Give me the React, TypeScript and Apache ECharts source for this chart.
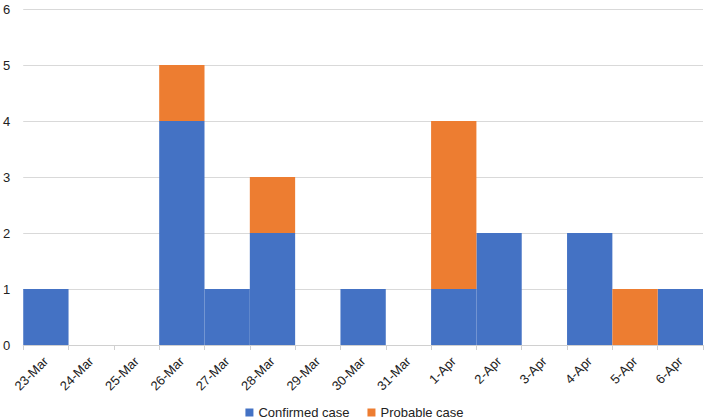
import React, { useEffect, useRef } from "react";
import * as echarts from "echarts";

const categories = ["23-Mar", "24-Mar", "25-Mar", "26-Mar", "27-Mar", "28-Mar", "29-Mar", "30-Mar", "31-Mar", "1-Apr", "2-Apr", "3-Apr", "4-Apr", "5-Apr", "6-Apr"];
const confirmed = [1, 0, 0, 4, 1, 2, 0, 1, 0, 1, 2, 0, 2, 0, 1];
const probable = [0, 0, 0, 1, 0, 1, 0, 0, 0, 3, 0, 0, 0, 1, 0];
const yTicks = [0, 1, 2, 3, 4, 5, 6];

export default function App() {
  const ref = useRef<HTMLDivElement>(null);
  useEffect(() => {
    if (!ref.current) return;
    const chart = echarts.init(ref.current, undefined, { renderer: "svg" });
    const font = "Liberation Sans, Arial, sans-serif";
    chart.setOption({
      animation: false,
      textStyle: { fontFamily: font },
      grid: { left: 23, right: 6, top: 9, bottom: 75, containLabel: false },
      legend: {
        top: 406,
        padding: 0,
        left: "center",
        itemWidth: 8,
        itemHeight: 8,
        itemGap: 18,
        icon: "rect",
        textStyle: { fontSize: 13, color: "#222", fontFamily: font },
        data: ["Confirmed case", "Probable case"],
      },
      xAxis: {
        type: "category",
        data: categories,
        axisLine: { show: true, lineStyle: { color: "#d0d0d0", width: 1 } },
        axisTick: { show: true, alignWithLabel: false, length: 5, lineStyle: { color: "#d0d0d0" } },
        axisLabel: { rotate: 45, fontSize: 13, color: "#222", margin: 14, interval: 0, fontFamily: font },
      },
      yAxis: {
        type: "value",
        min: 0,
        max: yTicks[yTicks.length - 1],
        interval: 1,
        axisLine: { show: false },
        axisTick: { show: false },
        axisLabel: { fontSize: 13, color: "#222", margin: 13, fontFamily: font },
        splitLine: { lineStyle: { color: "#d9d9d9", width: 1 } },
      },
      series: [
        {
          name: "Confirmed case",
          type: "bar",
          stack: "total",
          data: confirmed,
          barCategoryGap: 0,
          barWidth: "100%",
          itemStyle: { color: "#4472C4" },
        },
        {
          name: "Probable case",
          type: "bar",
          stack: "total",
          data: probable,
          barCategoryGap: 0,
          barWidth: "100%",
          itemStyle: { color: "#ED7D31" },
        },
      ],
    });
    return () => chart.dispose();
  }, []);
  return <div ref={ref} style={{ width: 709, height: 420, position: "absolute", left: 0, top: 0 }} />;
}
